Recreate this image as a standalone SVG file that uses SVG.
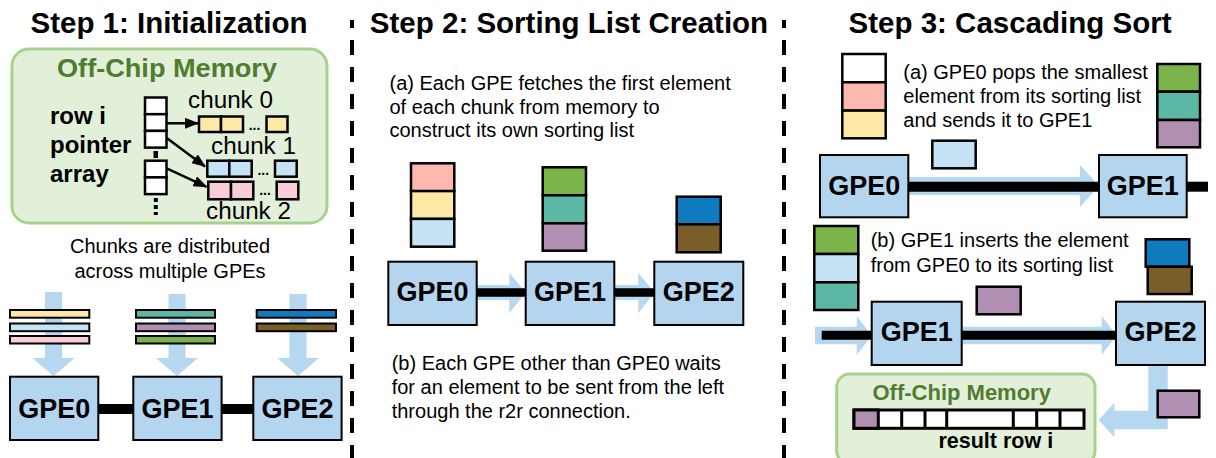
<svg xmlns="http://www.w3.org/2000/svg" width="1216" height="458" viewBox="0 0 1216 458">
<style>
text{font-family:"Liberation Sans",Arial,sans-serif;fill:#000}
.title{font-size:29.5px;font-weight:bold;text-anchor:middle}
.gpe rect{fill:#b3d5ef;stroke:#000;stroke-width:2}
.gpe text{font-size:27px;font-weight:bold;text-anchor:middle}
.desc{font-size:20px}
.mem{fill:#e2f0d9;stroke:#a9d18e;stroke-width:3}
.memt{font-weight:bold;fill:#4f7c2f;text-anchor:middle}
.cell{stroke:#000;stroke-width:2.5}
.bar{stroke:#000;stroke-width:2}
.flow{fill:#b6d7f0}
.wire{stroke:#000;fill:none}
.div{stroke:#000;stroke-width:4;stroke-dasharray:15 12;stroke-dashoffset:7}
.lbl{font-size:23px}
.blbl{font-size:24px;font-weight:bold}
.dots{font-size:14px;font-weight:bold;text-anchor:middle}
.ptr{fill:#fff;stroke:#000;stroke-width:2.5}
.yl{fill:#ffe9a6}.lb{fill:#c6e3f6}.pk{fill:#f8cdd9}.sa{fill:#ffb8ad}
.gr{fill:#7bb44a}.tl{fill:#5cb8a5}.pu{fill:#b18fb2}.db{fill:#0f7bbf}.br{fill:#7a5e29}.wh{fill:#fff}
</style>
<defs>
<marker id="ah" markerUnits="userSpaceOnUse" markerWidth="14" markerHeight="11" refX="13" refY="5.5" orient="auto">
<path d="M0,0 L14,5.5 L0,11 z" fill="#000"/>
</marker>
</defs>
<rect width="1216" height="458" fill="#fff"/>

<!-- titles and dividers -->
<text class="title" x="169" y="33">Step 1: Initialization</text>
<text class="title" x="569" y="33">Step 2: Sorting List Creation</text>
<text class="title" x="1010" y="33">Step 3: Cascading Sort</text>
<line class="div" x1="352" y1="20" x2="352" y2="458"/>
<line class="div" x1="784" y1="20" x2="784" y2="458"/>

<!-- ===== Step 1 ===== -->
<g id="memory1">
<rect class="mem" x="12" y="49" width="315" height="174" rx="17"/>
<text class="memt" x="167" y="77" style="font-size:26px" textLength="220" lengthAdjust="spacingAndGlyphs">Off-Chip Memory</text>
<text class="blbl" x="50" y="124">row i</text>
<text class="blbl" x="50" y="153">pointer</text>
<text class="blbl" x="50" y="182">array</text>
<rect class="ptr" x="145" y="97.5" width="21.5" height="16.7"/>
<rect class="ptr" x="145" y="114.2" width="21.5" height="16.7"/>
<rect class="ptr" x="145" y="130.9" width="21.5" height="16.7"/>
<rect x="153.5" y="151" width="4.5" height="7" fill="#000"/>
<rect class="ptr" x="145" y="160.7" width="21.5" height="16.7"/>
<rect class="ptr" x="145" y="177.4" width="21.5" height="16.7"/>
<line x1="155.8" y1="198" x2="155.8" y2="215" stroke="#000" stroke-width="4" stroke-dasharray="4 3"/>
<text class="lbl" x="188" y="108" textLength="85" lengthAdjust="spacingAndGlyphs">chunk 0</text>
<rect class="cell yl" x="199" y="116.5" width="22" height="15.5"/>
<rect class="cell yl" x="221" y="116.5" width="22" height="15.5"/>
<text class="dots" x="254.5" y="130">...</text>
<rect class="cell yl" x="266.5" y="116.5" width="21" height="15.5"/>
<text class="lbl" x="211" y="154" textLength="85" lengthAdjust="spacingAndGlyphs">chunk 1</text>
<rect class="cell lb" x="207.3" y="160.7" width="22" height="16"/>
<rect class="cell lb" x="229.3" y="160.7" width="22.4" height="16"/>
<text class="dots" x="263.3" y="175">...</text>
<rect class="cell lb" x="275" y="160.7" width="21.7" height="16"/>
<rect class="cell pk" x="208.3" y="181.7" width="22.7" height="17.6"/>
<rect class="cell pk" x="231" y="181.7" width="22.3" height="17.6"/>
<text class="dots" x="265" y="195">...</text>
<rect class="cell pk" x="276.7" y="181.7" width="21.6" height="17.6"/>
<text class="lbl" x="206" y="219" textLength="85" lengthAdjust="spacingAndGlyphs">chunk 2</text>
</g>
<text class="desc" x="170" y="253" text-anchor="middle">Chunks are distributed</text>
<text class="desc" x="170" y="277.5" text-anchor="middle">across multiple GPEs</text>

<g id="connectors">
<!-- step 1 pointer arrows -->
<line class="wire" x1="166.7" y1="123.3" x2="198" y2="123.3" stroke-width="2.5" marker-end="url(#ah)"/>
<line class="wire" x1="166.7" y1="138" x2="205" y2="166.5" stroke-width="2.5" marker-end="url(#ah)"/>
<line class="wire" x1="166.7" y1="168.3" x2="206.5" y2="186.8" stroke-width="2.5" marker-end="url(#ah)"/>
<!-- step 1 distribution arrows -->
<polygon class="flow" points="45,292 62,292 62,358 74.5,358 53.5,376 32.5,358 45,358"/>
<polygon class="flow" points="168.5,294 185.5,294 185.5,358 198,358 177,376 156,358 168.5,358"/>
<polygon class="flow" points="289.5,294 306.5,294 306.5,358 319,358 298,376 277,358 289.5,358"/>
<!-- step 1 links -->
<line class="wire" x1="98" y1="409" x2="134" y2="409" stroke-width="10"/>
<line class="wire" x1="221" y1="409" x2="254" y2="409" stroke-width="10"/>
<!-- step 2 -->
<polygon class="flow" points="476,285 509.3,285 509.3,272.7 525.7,292.5 509.3,313.3 509.3,300 476,300"/>
<polygon class="flow" points="614,285 638.3,285 638.3,272.7 654.3,292.5 638.3,313.3 638.3,300 614,300"/>
<line class="wire" x1="476" y1="292.5" x2="526" y2="292.5" stroke-width="8.5"/>
<line class="wire" x1="614" y1="292.5" x2="655" y2="292.5" stroke-width="8.5"/>
<!-- step 3 (a) -->
<polygon class="flow" points="908,177 1080,177 1080,165 1099,186 1080,207 1080,195 908,195"/>
<line class="wire" x1="908" y1="186.7" x2="1099.5" y2="186.7" stroke-width="10"/>
<line class="wire" x1="1186" y1="186.7" x2="1208" y2="186.7" stroke-width="10"/>
<!-- step 3 (b) -->
<polygon class="flow" points="815,326.7 856.7,326.7 856.7,316 871.7,335.5 856.7,355 856.7,344.3 815,344.3"/>
<polygon class="flow" points="961.7,326.7 1101.7,326.7 1101.7,316 1116.5,335.5 1101.7,355 1101.7,344.3 961.7,344.3"/>
<line class="wire" x1="821.7" y1="335.3" x2="872" y2="335.3" stroke-width="9"/>
<line class="wire" x1="961.7" y1="335.3" x2="1116.5" y2="335.3" stroke-width="9"/>
<polygon class="flow" points="1148.3,365 1167.7,365 1167.7,429.3 1114.3,429.3 1114.3,437 1098.5,420 1114.3,403 1114.3,410.7 1148.3,410.7"/>
</g>

<g id="s1-gpe0" class="gpe"><rect x="10" y="376.7" width="88.3" height="63.3"/><text x="54.2" y="418">GPE0</text></g>
<g id="s1-gpe1" class="gpe"><rect x="133.3" y="376.7" width="88.3" height="63.3"/><text x="177.5" y="418">GPE1</text></g>
<g id="s1-gpe2" class="gpe"><rect x="253.3" y="376.7" width="88.3" height="63.3"/><text x="297.5" y="418">GPE2</text></g>
<g id="s1-chunks">
<rect class="bar yl" x="10" y="310" width="79.3" height="7.7"/>
<rect class="bar lb" x="10" y="323.5" width="79.3" height="7.7"/>
<rect class="bar pk" x="10" y="336" width="79.3" height="7.5"/>
<rect class="bar tl" x="136" y="310" width="79" height="7.7"/>
<rect class="bar pu" x="136" y="323.5" width="79" height="7.7"/>
<rect class="bar gr" x="136" y="336" width="79" height="7.5"/>
<rect class="bar db" x="256.7" y="310" width="79.3" height="7.7"/>
<rect class="bar br" x="256.7" y="323.5" width="79.3" height="7.7"/>
</g>

<!-- ===== Step 2 ===== -->
<g id="s2-text-a">
<text class="desc" x="389.5" y="90">(a) Each GPE fetches the first element</text>
<text class="desc" x="389.5" y="113.7">of each chunk from memory to</text>
<text class="desc" x="389.5" y="137.3">construct its own sorting list</text>
</g>
<g id="s2-lists">
<rect class="cell sa" x="411" y="163.3" width="43.3" height="27.8"/>
<rect class="cell yl" x="411" y="191.1" width="43.3" height="27.8"/>
<rect class="cell lb" x="411" y="218.9" width="43.3" height="27.8"/>
<rect class="cell gr" x="542.7" y="167.3" width="43.3" height="28"/>
<rect class="cell tl" x="542.7" y="195.3" width="43.3" height="28"/>
<rect class="cell pu" x="542.7" y="223.3" width="43.3" height="27.4"/>
<rect class="cell db" x="676.7" y="196.7" width="44" height="27.6"/>
<rect class="cell br" x="676.7" y="224.3" width="44" height="28"/>
</g>
<g id="s2-gpe0" class="gpe"><rect x="388.3" y="261.7" width="88.4" height="63.3"/><text x="432.5" y="301">GPE0</text></g>
<g id="s2-gpe1" class="gpe"><rect x="525.7" y="261.7" width="88.6" height="63.3"/><text x="570" y="301">GPE1</text></g>
<g id="s2-gpe2" class="gpe"><rect x="654.3" y="261.7" width="89" height="63.3"/><text x="698.8" y="301">GPE2</text></g>
<g id="s2-text-b">
<text class="desc" x="391.7" y="370">(b) Each GPE other than GPE0 waits</text>
<text class="desc" x="391.7" y="394.3">for an element to be sent from the left</text>
<text class="desc" x="391.7" y="418.3">through the r2r connection.</text>
</g>

<!-- ===== Step 3 ===== -->
<g id="s3-a">
<rect class="cell wh" x="842.3" y="54" width="43.4" height="28.3"/>
<rect class="cell sa" x="842.3" y="82.3" width="43.4" height="28.3"/>
<rect class="cell yl" x="842.3" y="110.6" width="43.4" height="27.7"/>
<text class="desc" x="903.3" y="79">(a) GPE0 pops the smallest</text>
<text class="desc" x="903.3" y="103">element from its sorting list</text>
<text class="desc" x="903.3" y="127">and sends it to GPE1</text>
<rect class="cell gr" x="1157.3" y="64" width="42.7" height="27.7"/>
<rect class="cell tl" x="1157.3" y="91.7" width="42.7" height="28.3"/>
<rect class="cell pu" x="1157.3" y="120" width="42.7" height="27.3"/>
<rect class="cell lb" x="932.3" y="140.7" width="43.4" height="27.6"/>
</g>
<g id="s3a-gpe0" class="gpe"><rect x="820" y="155" width="88.3" height="62.3"/><text x="864.2" y="195">GPE0</text></g>
<g id="s3a-gpe1" class="gpe"><rect x="1099" y="155" width="87.7" height="62.3"/><text x="1142.8" y="195">GPE1</text></g>
<g id="s3-b">
<rect class="cell gr" x="814.3" y="226" width="44" height="28"/>
<rect class="cell lb" x="814.3" y="254" width="44" height="28.3"/>
<rect class="cell tl" x="814.3" y="282.3" width="44" height="27.7"/>
<text class="desc" x="870.7" y="247.3">(b) GPE1 inserts the element</text>
<text class="desc" x="870.7" y="271.7">from GPE0 to its sorting list</text>
<rect class="cell db" x="1145.7" y="239.3" width="43.6" height="27.4"/>
<rect class="cell br" x="1147.7" y="266.7" width="44" height="27.3"/>
<rect class="cell pu" x="976.7" y="286.7" width="44" height="27.6"/>
<rect class="cell pu" x="1157.7" y="390.7" width="41.6" height="26.6"/>
</g>
<g id="s3b-gpe1" class="gpe"><rect x="871.7" y="301.7" width="90" height="63.3"/><text x="916.7" y="341">GPE1</text></g>
<g id="s3b-gpe2" class="gpe"><rect x="1116" y="301.7" width="89" height="63.3"/><text x="1160.5" y="341">GPE2</text></g>
<g id="memory3">
<rect class="mem" x="836.7" y="374" width="258.3" height="90" rx="13"/>
<text class="memt" x="961.7" y="400" style="font-size:22px">Off-Chip Memory</text>
<rect x="854" y="410" width="230" height="18.3" fill="#fff" stroke="#000" stroke-width="3"/>
<rect x="854" y="410" width="24.3" height="18.3" fill="#b18fb2" stroke="#000" stroke-width="3"/>
<path d="M901.7,410V428.3M925,410V428.3M946.7,410V428.3M1013.3,410V428.3M1036.7,410V428.3M1060,410V428.3" stroke="#000" stroke-width="3"/>
<text x="995.8" y="448.3" style="font-size:21.5px;font-weight:bold" text-anchor="middle">result row i</text>
</g>
</svg>
